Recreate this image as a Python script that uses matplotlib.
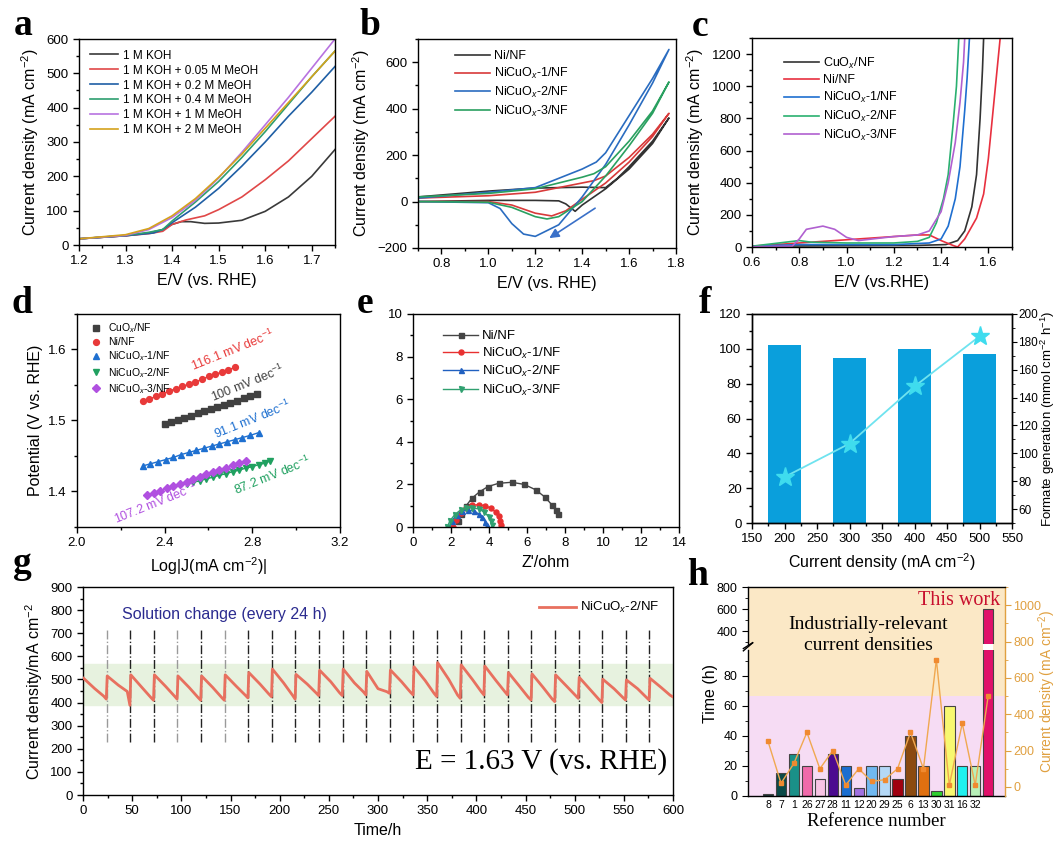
import matplotlib
matplotlib.use("Agg")
import matplotlib.pyplot as plt
from matplotlib.ticker import AutoMinorLocator, MultipleLocator, FixedLocator
from matplotlib.transforms import blended_transform_factory
from matplotlib.patches import Rectangle
import numpy as np

plt.rcParams['font.family'] = ['Liberation Sans', 'DejaVu Sans']
plt.rcParams['mathtext.fontset'] = 'custom'
plt.rcParams['mathtext.rm'] = 'Liberation Sans'
plt.rcParams['mathtext.it'] = 'Liberation Sans:italic'
plt.rcParams['axes.linewidth'] = 1.0
SERIF = ['Liberation Serif', 'DejaVu Serif']

# ---------------- DATA ----------------
# (a) LSV in different methanol concentrations
a_labels = ['1 M KOH', '1 M KOH + 0.05 M MeOH', '1 M KOH + 0.2 M MeOH',
            '1 M KOH + 0.4 M MeOH', '1 M KOH + 1 M MeOH', '1 M KOH + 2 M MeOH']
a_colors = ['#3a3a3a', '#e04848', '#1f5fa5', '#2e9e70', '#b873e0', '#d4a21c']
a_E = [
    [1.20, 1.30, 1.35, 1.38, 1.40, 1.42, 1.44, 1.47, 1.50, 1.55, 1.60, 1.65, 1.70, 1.75],
    [1.20, 1.30, 1.35, 1.38, 1.40, 1.43, 1.47, 1.50, 1.55, 1.60, 1.65, 1.70, 1.75],
    [1.20, 1.30, 1.36, 1.38, 1.40, 1.45, 1.50, 1.55, 1.60, 1.65, 1.70, 1.75],
    [1.20, 1.30, 1.35, 1.38, 1.40, 1.45, 1.50, 1.55, 1.60, 1.65, 1.70, 1.75],
    [1.20, 1.30, 1.35, 1.40, 1.45, 1.50, 1.55, 1.60, 1.65, 1.70, 1.75],
    [1.20, 1.30, 1.35, 1.40, 1.45, 1.50, 1.55, 1.60, 1.65, 1.70, 1.75],
]
a_J = [
    [18, 27, 35, 45, 60, 68, 68, 63, 64, 72, 98, 140, 200, 278],
    [18, 27, 33, 40, 60, 73, 85, 103, 140, 190, 245, 310, 375],
    [18, 27, 35, 45, 65, 110, 165, 230, 300, 375, 445, 520],
    [18, 28, 37, 45, 70, 125, 185, 255, 330, 410, 490, 565],
    [18, 28, 45, 80, 130, 195, 270, 350, 430, 515, 600],
    [18, 30, 48, 85, 135, 197, 265, 340, 415, 490, 565],
]

# (b) CV curves
b_labels = ['Ni/NF', 'NiCuO$_x$-1/NF', 'NiCuO$_x$-2/NF', 'NiCuO$_x$-3/NF']
b_colors = ['#333333', '#d83a3a', '#2a6cc0', '#2aa060']
b_E = [
    [0.70, 1.00, 1.20, 1.40, 1.50, 1.55, 1.60, 1.70, 1.77, 1.70, 1.60, 1.50, 1.45, 1.40, 1.37, 1.33, 1.30, 1.20, 1.00, 0.70],
    [0.70, 1.00, 1.20, 1.30, 1.40, 1.45, 1.50, 1.60, 1.70, 1.77, 1.70, 1.60, 1.50, 1.40, 1.33, 1.27, 1.20, 1.10, 1.00, 0.70],
    [0.70, 1.00, 1.20, 1.30, 1.40, 1.46, 1.50, 1.60, 1.70, 1.77, 1.70, 1.60, 1.50, 1.40, 1.30, 1.20, 1.15, 1.10, 1.05, 1.00, 0.70],
    [0.70, 1.00, 1.20, 1.30, 1.40, 1.45, 1.50, 1.60, 1.70, 1.77, 1.70, 1.60, 1.50, 1.40, 1.30, 1.25, 1.20, 1.10, 1.00, 0.70],
]
b_J = [
    [20, 45, 58, 62, 60, 100, 150, 260, 360, 250, 140, 55, 20, -15, -42, -10, 3, 5, 5, 0],
    [15, 25, 40, 60, 80, 90, 110, 190, 290, 380, 280, 170, 80, 10, -40, -62, -50, -15, 0, 0],
    [15, 40, 60, 100, 140, 170, 210, 370, 530, 655, 510, 330, 160, 20, -100, -150, -140, -95, -30, -5, 0],
    [20, 35, 55, 80, 105, 120, 150, 260, 390, 515, 380, 240, 110, 0, -65, -75, -65, -25, -3, 0],
]

# (c) LSV of catalysts
c_labels = ['CuO$_x$/NF', 'Ni/NF', 'NiCuO$_x$-1/NF', 'NiCuO$_x$-2/NF', 'NiCuO$_x$-3/NF']
c_colors = ['#333333', '#e8303f', '#1f6fd0', '#2ab070', '#b060d0']
c_E = [
    [0.60, 1.00, 1.30, 1.42, 1.47, 1.50, 1.53, 1.55, 1.565, 1.575, 1.58],
    [0.60, 0.80, 1.00, 1.20, 1.30, 1.35, 1.40, 1.45, 1.47, 1.50, 1.55, 1.58, 1.60, 1.62, 1.64, 1.65],
    [0.60, 0.80, 1.00, 1.20, 1.35, 1.40, 1.43, 1.46, 1.48, 1.50, 1.51, 1.52],
    [0.60, 0.80, 0.85, 1.00, 1.20, 1.30, 1.35, 1.38, 1.41, 1.43, 1.45, 1.465, 1.475],
    [0.60, 0.77, 0.80, 0.83, 0.90, 0.95, 1.00, 1.05, 1.20, 1.30, 1.35, 1.40, 1.43, 1.46, 1.48, 1.495, 1.50],
]
c_J = [
    [5, 8, 10, 15, 40, 100, 250, 450, 800, 1100, 1300],
    [5, 25, 45, 65, 75, 75, 40, 10, 0, 50, 180, 330, 550, 850, 1150, 1300],
    [5, 15, 15, 15, 25, 50, 130, 300, 500, 850, 1050, 1300],
    [5, 40, 30, 25, 25, 35, 60, 150, 300, 450, 750, 1000, 1300],
    [2, 5, 50, 110, 130, 110, 60, 40, 65, 75, 100, 220, 400, 650, 900, 1150, 1300],
]

# (d) Tafel plots
d_labels = ['CuO$_x$/NF', 'Ni/NF', 'NiCuO$_x$-1/NF', 'NiCuO$_x$-2/NF', 'NiCuO$_x$-3/NF']
d_colors = ['#404040', '#e83a3a', '#1f70d0', '#20a060', '#b050e0']
d_markers = ['s', 'o', '^', 'v', 'D']
d_x = [
    [2.40, 2.43, 2.46, 2.49, 2.52, 2.55, 2.58, 2.61, 2.64, 2.67, 2.70, 2.73, 2.76, 2.79, 2.82],
    [2.30, 2.33, 2.36, 2.39, 2.42, 2.45, 2.48, 2.51, 2.54, 2.57, 2.60, 2.63, 2.66, 2.69, 2.72],
    [2.30, 2.335, 2.37, 2.405, 2.44, 2.475, 2.51, 2.545, 2.58, 2.615, 2.65, 2.685, 2.72, 2.755, 2.79, 2.83],
    [2.50, 2.53, 2.56, 2.59, 2.62, 2.65, 2.68, 2.71, 2.74, 2.77, 2.80, 2.83, 2.86, 2.88],
    [2.32, 2.35, 2.38, 2.41, 2.44, 2.47, 2.50, 2.53, 2.56, 2.59, 2.62, 2.65, 2.68, 2.71, 2.74, 2.77],
]
d_y = [
    [1.495, 1.498, 1.501, 1.504, 1.507, 1.510, 1.513, 1.516, 1.519, 1.522, 1.525, 1.528, 1.531, 1.534, 1.537],
    [1.527, 1.530, 1.534, 1.538, 1.541, 1.545, 1.548, 1.551, 1.554, 1.558, 1.562, 1.565, 1.568, 1.571, 1.575],
    [1.436, 1.439, 1.442, 1.445, 1.448, 1.452, 1.455, 1.458, 1.461, 1.464, 1.467, 1.470, 1.473, 1.476, 1.479, 1.483],
    [1.410, 1.413, 1.415, 1.418, 1.420, 1.423, 1.425, 1.428, 1.430, 1.433, 1.435, 1.438, 1.440, 1.443],
    [1.395, 1.398, 1.401, 1.405, 1.408, 1.411, 1.414, 1.417, 1.421, 1.424, 1.427, 1.430, 1.433, 1.437, 1.440, 1.443],
]
d_slopes = ['100 mV dec$^{-1}$', '116.1 mV dec$^{-1}$', '91.1 mV dec$^{-1}$', '87.2 mV dec$^{-1}$', '107.2 mV dec$^{-1}$']
d_slope_pos = [(2.78, 1.553), (2.71, 1.599), (2.80, 1.502), (2.89, 1.422), (2.36, 1.383)]

# (e) Nyquist plots
e_labels = ['Ni/NF', 'NiCuO$_x$-1/NF', 'NiCuO$_x$-2/NF', 'NiCuO$_x$-3/NF']
e_colors = ['#444444', '#e83030', '#2060c0', '#30a070']
e_markers = ['s', 'o', '^', 'v']
e_re = [
    [2.35, 2.55, 2.8, 3.1, 3.5, 3.95, 4.5, 5.2, 5.85, 6.45, 6.95, 7.3, 7.5, 7.65],
    [2.1, 2.25, 2.5, 2.8, 3.1, 3.45, 3.8, 4.1, 4.35, 4.5, 4.58, 4.62],
    [1.9, 2.05, 2.3, 2.6, 2.9, 3.2, 3.45, 3.65, 3.8, 3.88],
    [1.8, 1.95, 2.2, 2.5, 2.8, 3.1, 3.45, 3.75, 3.98, 4.12, 4.18],
]
e_im = [
    [0.3, 0.6, 1.0, 1.35, 1.65, 1.9, 2.05, 2.1, 2.0, 1.75, 1.4, 1.05, 0.8, 0.6],
    [0.0, 0.35, 0.65, 0.9, 1.02, 1.05, 1.0, 0.88, 0.7, 0.5, 0.3, 0.1],
    [0.0, 0.3, 0.58, 0.76, 0.8, 0.75, 0.62, 0.45, 0.25, 0.08],
    [0.0, 0.3, 0.58, 0.8, 0.9, 0.9, 0.85, 0.7, 0.48, 0.28, 0.08],
]

# (f) FE bars and formate generation
f_current = [200, 300, 400, 500]
f_fe = [102, 95, 100, 97]
f_formate = [83, 107, 148, 184]

# (g) stability test: sawtooth segments (24 h each)
g_seg_start = [0, 24, 48, 72, 96, 120, 144, 168, 192, 216, 240, 264, 288,
               312, 336, 360, 384, 408, 432, 456, 480, 504, 528, 552, 576]
g_peak = [505, 515, 520, 520, 515, 515, 520, 530, 545, 522, 540, 545, 535,
          541, 555, 573, 563, 558, 530, 524, 520, 509, 501, 498, 505]
g_mid = [460, 475, 465, 470, 465, 465, 470, 480, 485, 480, 490, 485, 460,
         490, 495, 500, 500, 495, 470, 465, 470, 455, 460, 460, 465]
g_late = [428, 448, 422, 428, 422, 422, 432, 437, 432, 442, 442, 447, 447,
          445, 440, 432, 447, 447, 422, 416, 430, 412, 422, 422, 432]
g_trough = [415, 388, 410, 415, 410, 410, 420, 425, 415, 430, 430, 433, 440,
            433, 426, 418, 433, 433, 411, 404, 418, 400, 411, 411, 425]
g_change_times = [24, 48, 72, 96, 120, 144, 168, 192, 216, 240, 264, 288, 312,
                  336, 360, 384, 408, 432, 456, 480, 504, 528, 552, 576]

# (h) comparison with literature
h_refs = ['8', '7', '1', '26', '27', '28', '11', '12', '20', '29', '25', '6',
          '13', '30', '31', '16', '32', '']
h_time = [1, 15, 28, 20, 11, 28, 20, 5, 20, 20, 11, 40, 20, 3, 60, 20, 20, 600]
h_cd = [250, 20, 130, 300, 100, 200, 10, 100, 30, 40, 100, 300, 100, 700,
        10, 350, 10, 500]
h_colors = ['#1c3a3a', '#0b4a48', '#1a9088', '#f06aaa', '#f8c4e4', '#4b0a90',
            '#1a6ed0', '#a070e0', '#70b8f0', '#b4d8f6', '#a00010', '#8b4a10',
            '#e07010', '#30d030', '#f8f870', '#20f0f0', '#b8f0b8', '#e0106a']

# ---------------- FIGURE ----------------
W, H = 1059, 841
fig = plt.figure(figsize=(W / 100, H / 100), dpi=100)


def ax_at(L, T, R, B, **kw):
    return fig.add_axes([L / W, 1 - B / H, (R - L) / W, (B - T) / H], **kw)


def style(ax, xminor=2, yminor=2):
    ax.tick_params(which='both', direction='out', top=False, right=False,
                   labelsize=9.5, width=1.0)
    ax.tick_params(which='major', length=4)
    ax.tick_params(which='minor', length=2.2)
    if xminor:
        ax.xaxis.set_minor_locator(AutoMinorLocator(xminor))
    if yminor:
        ax.yaxis.set_minor_locator(AutoMinorLocator(yminor))


def letter(ch, x, y):
    fig.text(x / W, 1 - y / H, ch, fontsize=27, fontweight='bold',
             family=SERIF, ha='center', va='baseline')


LBL = 11.5
JLAB = 'Current density (mA cm$^{-2}$)'

# (a)
ax = ax_at(79, 39, 335, 245)
for E, J, c, l in zip(a_E, a_J, a_colors, a_labels):
    ax.plot(E, J, color=c, lw=1.2, label=l)
ax.set_xlim(1.2, 1.75)
ax.set_ylim(0, 600)
ax.xaxis.set_major_locator(MultipleLocator(0.1))
ax.yaxis.set_major_locator(MultipleLocator(100))
style(ax)
ax.set_xlabel('E/V (vs. RHE)', fontsize=LBL)
ax.set_ylabel(JLAB, fontsize=LBL)
ax.legend(loc='upper left', frameon=False, fontsize=8.5, handlelength=2.4,
          borderaxespad=0.5, labelspacing=0.25, handletextpad=0.4)
letter('a', 23, 35)

# (b)
ax = ax_at(418, 39, 676, 248)
for E, J, c, l in zip(b_E, b_J, b_colors, b_labels):
    ax.plot(E, J, color=c, lw=1.2, label=l)
ax.annotate('', xy=(1.25, -164), xytext=(1.465, -22),
            arrowprops=dict(arrowstyle='-|>', color='#3a70c8', lw=1.2,
                            mutation_scale=14))
ax.set_xlim(0.7, 1.8)
ax.set_ylim(-200, 700)
ax.xaxis.set_major_locator(MultipleLocator(0.2))
ax.yaxis.set_major_locator(MultipleLocator(200))
style(ax)
ax.set_xlabel('E/V (vs. RHE)', fontsize=LBL)
ax.set_ylabel(JLAB, fontsize=LBL)
ax.legend(loc='upper left', frameon=False, fontsize=9, handlelength=2.8,
          bbox_to_anchor=(0.1, 1.0), labelspacing=0.3, handletextpad=0.3)
letter('b', 370, 35)

# (c)
ax = ax_at(752, 38, 1012, 247)
for E, J, c, l in zip(c_E, c_J, c_colors, c_labels):
    ax.plot(E, J, color=c, lw=1.2, label=l)
ax.set_xlim(0.6, 1.7)
ax.set_ylim(0, 1300)
ax.xaxis.set_major_locator(MultipleLocator(0.2))
ax.yaxis.set_major_locator(MultipleLocator(200))
style(ax)
ax.set_xlabel('E/V (vs.RHE)', fontsize=LBL)
ax.set_ylabel(JLAB, fontsize=LBL)
ax.legend(loc='upper left', frameon=False, fontsize=9, handlelength=2.8,
          bbox_to_anchor=(0.08, 0.97), labelspacing=0.3, handletextpad=0.3)
letter('c', 700, 36)

# (d)
ax = ax_at(77, 314, 340, 527)
for x, y, c, m, l in zip(d_x, d_y, d_colors, d_markers, d_labels):
    ax.plot(x, y, color=c, lw=1.0, zorder=2)
    ax.plot(x, y, ls='none', marker=m, color=c, ms=4.2, label=l, zorder=3)
for txt, (tx, ty), c in zip(d_slopes, d_slope_pos, d_colors):
    ax.text(tx, ty, txt, color=c, fontsize=9, rotation=22, ha='center',
            va='center', rotation_mode='anchor')
ax.set_xlim(2.0, 3.2)
ax.set_ylim(1.35, 1.65)
ax.xaxis.set_major_locator(MultipleLocator(0.4))
ax.yaxis.set_major_locator(MultipleLocator(0.1))
style(ax)
ax.set_xlabel('Log|J(mA cm$^{-2}$)|', fontsize=LBL)
ax.set_ylabel('Potential (V vs. RHE)', fontsize=LBL)
ax.legend(loc='upper left', frameon=False, fontsize=7.5, handlelength=1.2,
          labelspacing=0.22, handletextpad=0.6, borderaxespad=0.3,
          bbox_to_anchor=(0.02, 1.0))
letter('d', 22, 313)

# (e)
ax = ax_at(413, 314, 679, 527)
for x, y, c, m, l in zip(e_re, e_im, e_colors, e_markers, e_labels):
    ax.plot(x, y, color=c, lw=1.0, marker=m, ms=3.6, label=l)
ax.set_xlim(0, 14)
ax.set_ylim(0, 10)
ax.xaxis.set_major_locator(MultipleLocator(2))
ax.yaxis.set_major_locator(MultipleLocator(2))
style(ax)
ax.set_xlabel("Z'/ohm", fontsize=LBL)
ax.legend(loc='upper left', frameon=False, fontsize=9.5, handlelength=2.6,
          bbox_to_anchor=(0.07, 0.98), labelspacing=0.25, handletextpad=0.3)
letter('e', 365, 313)

# (f)
ax = ax_at(752, 314, 1012, 523)
ax.bar(f_current, f_fe, width=50, color='#0a9fdc', zorder=2)
ax.set_xlim(150, 550)
ax.set_ylim(0, 120)
ax.xaxis.set_major_locator(MultipleLocator(50))
ax.yaxis.set_major_locator(MultipleLocator(20))
style(ax)
ax.set_xlabel('Current density (mA cm$^{-2}$)', fontsize=LBL)
ax2 = ax.twinx()
ax2.plot(f_current, f_formate, color='#6fe3ef', lw=1.3, marker='*',
         ms=14, mfc='#3fdcee', mec='#3fdcee', zorder=3)
ax2.set_ylim(50, 200)
ax2.yaxis.set_major_locator(MultipleLocator(20))
ax2.yaxis.set_minor_locator(AutoMinorLocator(2))
ax2.tick_params(which='both', direction='out', labelsize=8.5, pad=1)
ax2.tick_params(which='major', length=3.5)
ax2.tick_params(which='minor', length=2)
ax2.set_ylabel('Formate generation (mmol cm$^{-2}$ h$^{-1}$)', fontsize=9.5)
ax2.yaxis.set_label_coords((1039 - 752) / 260, 0.5)
letter('f', 705, 313)

# (g)
ax = ax_at(83, 587, 673, 795)
ax.axhspan(390, 565, color='#e7f2df', zorder=0)
light = [24, 96, 144]
for t in g_change_times:
    ax.vlines(t, 230, 715, colors='#9a9a9a' if t in light else '#222222',
              linestyles='-.', lw=1.0, zorder=1)
gt, gj = [], []
for i, t0 in enumerate(g_seg_start):
    seg_end = 600 if i == len(g_seg_start) - 1 else g_seg_start[i + 1]
    gt += [t0 + 0.6, t0 + 12, seg_end - 3, seg_end - 0.3]
    gj += [g_peak[i], g_mid[i], g_late[i], g_trough[i]]
ax.plot(gt, gj, color='#e8705f', lw=2.0, zorder=3, label='NiCuO$_x$-2/NF')
ax.set_xlim(0, 600)
ax.set_ylim(0, 900)
ax.xaxis.set_major_locator(MultipleLocator(50))
ax.yaxis.set_major_locator(MultipleLocator(100))
style(ax)
ax.set_xlabel('Time/h', fontsize=LBL)
ax.set_ylabel('Current density/mA cm$^{-2}$', fontsize=LBL)
ax.text(40, 780, 'Solution change (every 24 h)', color='#2b2b8f',
        fontsize=11.5, va='center')
ax.text(594, 143, 'E = 1.63 V (vs. RHE)', family=SERIF, fontsize=21,
        ha='right', va='center')
ax.legend(loc='upper right', frameon=False, fontsize=9.5, handlelength=2.8,
          handletextpad=0.3, borderaxespad=0.6)
letter('g', 22, 573)

# (h)
hx = np.arange(len(h_refs))
xl = (-1.55, 18.3)
ax_bg = ax_at(748, 587, 1005, 796)
ax_bg.set_xlim(*xl)
ax_bg.set_ylim(-50, 1100)
ax_bg.axhspan(500, 1100, color='#fbe8c6', lw=0)
ax_bg.axhspan(-50, 500, color='#f6dcf4', lw=0)
ax_bg.set_axis_off()

ax_top = ax_at(748, 587, 1005, 644)
ax_low = ax_at(748, 650, 1005, 796)
for a_ in (ax_top, ax_low):
    a_.patch.set_alpha(0)
    a_.bar(hx, h_time, width=0.8, color=h_colors, edgecolor='#444444', lw=0.8)
    a_.set_xlim(*xl)
    a_.spines['right'].set_visible(False)
    a_.spines['top'].set_visible(False)
    a_.tick_params(which='both', direction='out', labelsize=9, right=False, top=False)
    a_.tick_params(which='major', length=4)
    a_.tick_params(which='minor', length=2.2)
ax_top.set_ylim(282, 800)
ax_top.yaxis.set_major_locator(FixedLocator([400, 600, 800]))
ax_top.yaxis.set_minor_locator(FixedLocator([300, 500, 700]))
ax_top.spines['bottom'].set_visible(False)
ax_top.tick_params(axis='x', which='both', bottom=False, labelbottom=False)
ax_low.set_ylim(0, 97)
ax_low.yaxis.set_major_locator(MultipleLocator(20))
ax_low.yaxis.set_minor_locator(AutoMinorLocator(2))
ax_low.set_xticks(hx)
ax_low.set_xticklabels(h_refs, fontsize=7.5)
ax_low.tick_params(axis='x', length=0, pad=3)
ax_low.set_xlabel('Reference number', family=SERIF, fontsize=13.5, labelpad=2)
ax_low.set_ylabel('Time (h)', fontsize=LBL)
ax_low.yaxis.set_label_coords(-0.115, 0.7)
# white gap through the broken bar
gap_tr = blended_transform_factory(ax_low.transData, fig.transFigure)
fig.patches.append(Rectangle((hx[-1] - 0.4, 1 - 650 / H), 0.8, 6 / H,
                             transform=gap_tr, facecolor='white',
                             edgecolor='none', zorder=3))
# break marks
d = 0.018
kw = dict(color='k', lw=1.0, clip_on=False)
ax_low.plot([-d, d], [1.0 + 0.01, 1.0 + 0.05], transform=ax_low.transAxes, **kw)
ax_top.plot([-d, d], [-0.12, 0.02], transform=ax_top.transAxes, **kw)

ax_r = ax_at(748, 587, 1005, 796)
ax_r.patch.set_alpha(0)
ax_r.plot(hx, h_cd, color='#f0a850', lw=1.0, marker='s', ms=3.5,
          mfc='#f08a30', mec='#f08a30', zorder=5)
ax_r.set_xlim(*xl)
ax_r.set_ylim(-50, 1100)
ax_r.yaxis.tick_right()
ax_r.yaxis.set_label_position('right')
ax_r.yaxis.set_major_locator(MultipleLocator(200))
ax_r.yaxis.set_minor_locator(AutoMinorLocator(2))
ax_r.tick_params(axis='y', which='both', direction='out', colors='#e0a040',
                 labelsize=9, left=False, right=True, pad=2)
ax_r.tick_params(axis='y', which='major', length=4)
ax_r.tick_params(axis='y', which='minor', length=2.2)
ax_r.tick_params(axis='x', bottom=False, labelbottom=False)
ax_r.spines['left'].set_visible(False)
ax_r.spines['bottom'].set_visible(False)
ax_r.spines['right'].set_color('#e0a040')
ax_r.set_ylabel('Current density (mA cm$^{-2}$)', color='#e0a040', fontsize=10)
ax_r.yaxis.set_label_coords((1036 - 748) / 257, 0.5)
ax_r.text(0.467, 0.77, 'Industrially-relevant\ncurrent densities', family=SERIF,
          fontsize=14, ha='center', va='center', transform=ax_r.transAxes,
          linespacing=1.25)
ax_r.text(0.82, 0.935, 'This work', family=SERIF, fontsize=14.5,
          color='#c8102e', ha='center', va='center', transform=ax_r.transAxes)
letter('h', 698, 585)

fig.savefig('out.png', dpi=100)
